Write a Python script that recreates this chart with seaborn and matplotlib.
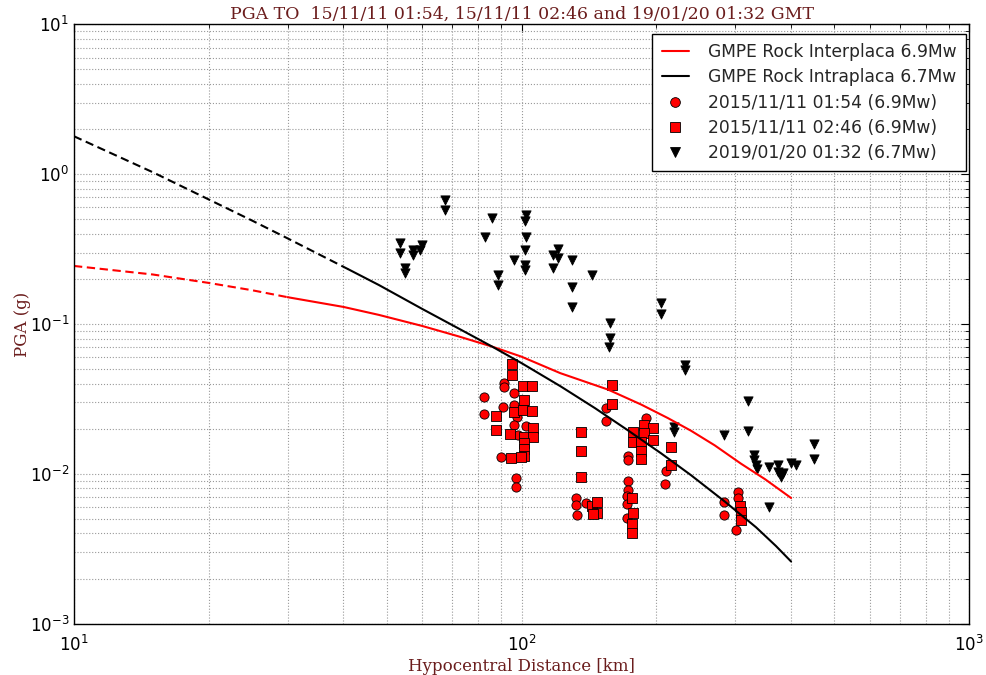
import numpy as np
import pandas as pd
import matplotlib
matplotlib.use("Agg")
import matplotlib.pyplot as plt
import seaborn as sns
from matplotlib.lines import Line2D

sns.set_style("white")
plt.rcParams["font.family"] = ["DejaVu Sans"]
plt.rcParams["mathtext.fontset"] = "dejavusans"

# GMPE curves on rock: hypocentral distance [km] and PGA [g]
interplaca_dist = [10, 15, 20, 25, 30, 40, 48, 60, 72, 86, 100, 122, 156, 185,
                   212, 239, 270, 309, 350, 400]
interplaca_pga = [0.244, 0.214, 0.188, 0.168, 0.151, 0.130, 0.115, 0.097,
                  0.083, 0.0706, 0.0605, 0.047, 0.0365, 0.029, 0.0236, 0.0194,
                  0.0155, 0.0117, 0.0092, 0.0069]
interplaca_valid_from = 30  # km, dashed below this distance

intraplaca_dist = [10, 15, 20, 25, 30, 35, 41, 48, 60, 72, 86, 100, 122, 146,
                   172, 205, 239, 285, 334, 370, 400]
intraplaca_pga = [1.79, 1.03, 0.678, 0.49, 0.373, 0.295, 0.232, 0.182, 0.126,
                  0.094, 0.0706, 0.0548, 0.0385, 0.0274, 0.0197, 0.0137, 0.0098,
                  0.0065, 0.0044, 0.0033, 0.0026]
intraplaca_valid_from = 41  # km

# Recorded PGA, event 2015/11/11 01:54
ev1_dist = [91.3, 91.3, 96.1, 82.4, 90.8, 96.1, 82.4, 97.8, 96.1, 102.4,
            98.1, 90.1, 97.4, 97.4, 154.7, 154.7, 190.1, 172.9, 172.9, 209.9,
            209.2, 173.3, 173.3, 172.4, 172.4, 172.4, 132.1, 132.1, 133.3, 139.1,
            283.1, 283.1, 304.2, 304.2, 301.1]
ev1_pga = [0.0402, 0.0378, 0.0348, 0.0327, 0.0278, 0.0288, 0.0250, 0.0241, 0.0212, 0.0209,
           0.0182, 0.0130, 0.0094, 0.0082, 0.0274, 0.0226, 0.0235, 0.0132, 0.0123, 0.0105,
           0.0086, 0.0089, 0.0078, 0.0071, 0.0063, 0.0051, 0.0069, 0.0062, 0.0053, 0.0064,
           0.0065, 0.0053, 0.0076, 0.0069, 0.0042]

# Recorded PGA, event 2015/11/11 02:46
ev2_dist = [95.3, 95.3, 100.9, 105.3, 101.2, 96.1, 100.9, 105.3, 87.8, 106.2,
            87.8, 94.1, 101.2, 106.2, 101.2, 101.2, 101.2, 94.5, 99.8, 159,
            159, 187.8, 196.1, 177.4, 187.8, 177.4, 184.6, 196.1, 184.6, 184.6,
            135.5, 136, 135.5, 215.4, 215.4, 176.9, 177.8, 176.9, 176.9, 143.9,
            147.7, 147.7, 144.7, 307.4, 309, 309]
ev2_pga = [0.0541, 0.0457, 0.0386, 0.0386, 0.0311, 0.0260, 0.0267, 0.0263, 0.0245, 0.0202,
           0.0196, 0.0185, 0.0177, 0.0177, 0.0160, 0.0146, 0.0132, 0.0127, 0.0130, 0.0392,
           0.0293, 0.0212, 0.0202, 0.0191, 0.0187, 0.0164, 0.0164, 0.0167, 0.0141, 0.0125,
           0.0190, 0.0141, 0.0096, 0.0150, 0.0114, 0.0069, 0.0055, 0.0046, 0.0040, 0.0061,
           0.0065, 0.0055, 0.0054, 0.0061, 0.0056, 0.0049]

# Recorded PGA, event 2019/01/20 01:32
ev3_dist = [53.6, 53.6, 55.0, 55.0, 57.3, 57.3, 60.0, 59.4, 67.6, 67.6,
            86.1, 83.0, 88.4, 88.4, 96.0, 102.1, 101.6, 102.1, 101.6, 101.6,
            101.6, 117.3, 120.3, 120.3, 117.3, 129.4, 129.4, 129.4, 143.4, 204.6,
            204.6, 157.3, 157.3, 156.5, 231.5, 231.5, 219, 219, 320, 320,
            283, 330, 330, 334, 336, 357, 374, 374, 380, 384,
            400, 410, 450, 450, 357]
ev3_pga = [0.347, 0.297, 0.236, 0.219, 0.311, 0.288, 0.336, 0.311, 0.671, 0.575,
           0.509, 0.380, 0.212, 0.182, 0.267, 0.533, 0.486, 0.380, 0.311, 0.247,
           0.229, 0.288, 0.316, 0.275, 0.236, 0.267, 0.176, 0.130, 0.212, 0.138,
           0.117, 0.1015, 0.0806, 0.0703, 0.0533, 0.0494, 0.0206, 0.0191, 0.0307, 0.0194,
           0.0182, 0.0134, 0.0124, 0.0115, 0.0108, 0.0111, 0.0115, 0.0103, 0.0095, 0.0102,
           0.0118, 0.0115, 0.0158, 0.0126, 0.0060]

labels = ["GMPE Rock Interplaca 6.9Mw", "GMPE Rock Intraplaca 6.7Mw",
          "2015/11/11 01:54 (6.9Mw)", "2015/11/11 02:46 (6.9Mw)",
          "2019/01/20 01:32 (6.7Mw)"]
title = "PGA TO  15/11/11 01:54, 15/11/11 02:46 and 19/01/20 01:32 GMT"
label_color = "#6b1d1d"

fig, ax = plt.subplots(figsize=(9.86, 6.75), dpi=100)
fig.subplots_adjust(left=0.075, right=0.983, bottom=0.076, top=0.964)
ax.set_xscale("log")
ax.set_yscale("log")


def split_curve(dist, pga, limit):
    df = pd.DataFrame({"dist": dist, "pga": pga})
    return df[df["dist"] <= limit], df[df["dist"] >= limit]


dash = (0, (4, 2.2))
for dist, pga, limit, color in [
    (interplaca_dist, interplaca_pga, interplaca_valid_from, "red"),
    (intraplaca_dist, intraplaca_pga, intraplaca_valid_from, "black"),
]:
    near, far = split_curve(dist, pga, limit)
    sns.lineplot(data=near, x="dist", y="pga", ax=ax, color=color, lw=1.5,
                 linestyle=dash, legend=False)
    sns.lineplot(data=far, x="dist", y="pga", ax=ax, color=color, lw=1.5,
                 legend=False)

for dist, pga, marker in [(ev1_dist, ev1_pga, "o"), (ev2_dist, ev2_pga, "s"),
                          (ev3_dist, ev3_pga, "v")]:
    color = "red" if marker != "v" else "black"
    sns.scatterplot(x=dist, y=pga, ax=ax, marker=marker, color=color,
                    edgecolor="black", linewidth=0.6, s=44, legend=False)

ax.set_xlim(10, 1000)
ax.set_ylim(1e-3, 10)
ax.grid(True, which="both", linestyle=":", color="0.6", linewidth=0.8)
ax.tick_params(which="both", direction="in", top=True, right=True,
               labelsize=12, colors="black")
ax.tick_params(axis="x", which="major", pad=8)
ax.tick_params(which="major", length=6)
ax.tick_params(which="minor", length=3)
for sp in ax.spines.values():
    sp.set_color("black")
    sp.set_linewidth(1.0)

ax.set_title(title, family="DejaVu Serif", color=label_color, fontsize=12.5, pad=4)
ax.set_xlabel("Hypocentral Distance [km]", family="DejaVu Serif",
              color=label_color, fontsize=12, labelpad=2)
ax.set_ylabel("PGA (g)", family="DejaVu Serif", color=label_color,
              fontsize=12, labelpad=-1)

handles = [
    Line2D([], [], color="red", lw=1.5),
    Line2D([], [], color="black", lw=1.5),
    Line2D([], [], ls="none", marker="o", color="red", mec="black", mew=0.6, ms=7),
    Line2D([], [], ls="none", marker="s", color="red", mec="black", mew=0.6, ms=7),
    Line2D([], [], ls="none", marker="v", color="black", mec="black", mew=0.6, ms=7),
]
leg = ax.legend(handles, labels, loc="upper right", bbox_to_anchor=(0.996, 0.984),
                fontsize=12.3, frameon=True, fancybox=False, framealpha=1,
                edgecolor="black", handlelength=1.6, handletextpad=1.1,
                labelspacing=0.42, borderpad=0.55, borderaxespad=0.0)
leg.get_frame().set_linewidth(1.0)

fig.savefig("out.png", dpi=100)
